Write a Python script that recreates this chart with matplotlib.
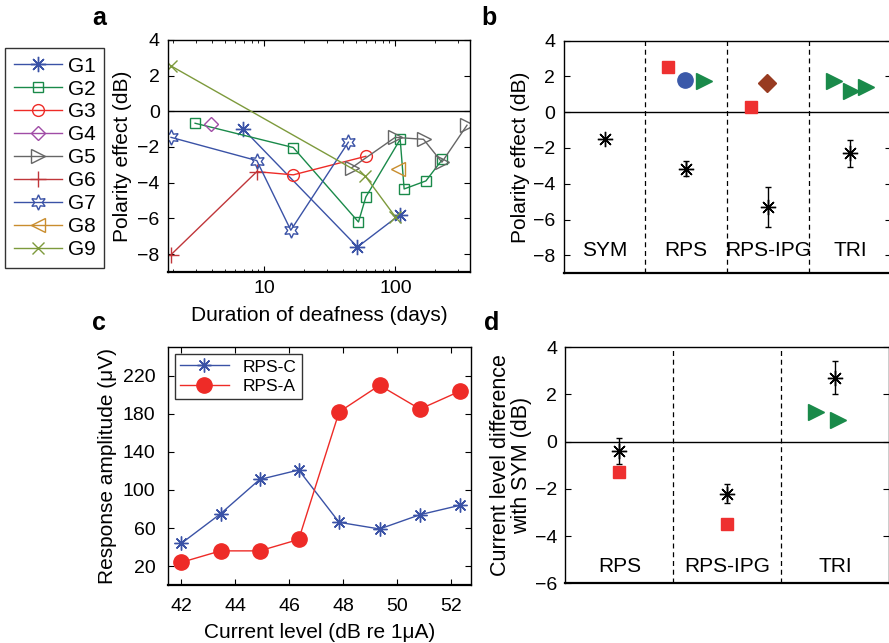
import numpy as np
import matplotlib
matplotlib.use('Agg')
import matplotlib.pyplot as plt
from matplotlib.lines import Line2D

plt.rcParams['font.family'] = ['Liberation Sans', 'DejaVu Sans']
plt.rcParams['font.size'] = 15
plt.rcParams['xtick.direction'] = 'in'
plt.rcParams['ytick.direction'] = 'in'
plt.rcParams['xtick.labelsize'] = 14
plt.rcParams['ytick.labelsize'] = 14

# ---- panel a: polarity effect vs duration of deafness, per guinea pig
g1_x = [6.9, 51.3, 107.5]
g1_y = [-1.0, -7.6, -5.8]
g2_x = [2.96, 16.6, 52.2, 59.4, 108.6, 116.4, 170.6, 227.5]
g2_y = [-0.67, -2.03, -6.2, -4.8, -1.57, -4.35, -3.9, -2.7]
g3_x = [8.75, 16.6, 59.4]
g3_y = [-3.38, -3.56, -2.52]
g4_x = [3.92]
g4_y = [-0.71]
g5_x = [46.4, 99.5, 163.6, 226.0, 351.0]
g5_y = [-3.16, -1.46, -1.57, -2.85, -0.78]
g6_x = [1.94, 8.75]
g6_y = [-8.03, -3.38]
g7_x = [1.94, 8.75, 15.9, 43.7]
g7_y = [-1.46, -2.76, -6.66, -1.73]
g8_x = [105.4]
g8_y = [-3.21]
g9_x = [1.94, 58.7, 99.5]
g9_y = [2.54, -3.62, -5.9]

# ---- panel b: polarity effect per stimulus type
stim_b = ['SYM', 'RPS', 'RPS-IPG', 'TRI']
mean_b = [-1.5, -3.15, -5.3, -2.3]
err_b = [0.0, 0.4, 1.1, 0.75]
sq_b_x = [1.78, 2.79]
sq_b_y = [2.5, 0.3]
circ_b_x = [1.99]
circ_b_y = [1.8]
tri_b_x = [2.22, 3.80, 4.01, 4.2]
tri_b_y = [1.75, 1.75, 1.2, 1.4]
dia_b_x = [2.99]
dia_b_y = [1.6]

# ---- panel c: input/output functions
level_c = [42.0, 43.45, 44.9, 46.35, 47.85, 49.35, 50.85, 52.35]
rps_c = [44, 75, 111, 121, 66, 59, 74, 84]
rps_a = [24, 36, 36, 48, 182, 210, 185, 204]

# ---- panel d: current level difference with SYM
stim_d = ['RPS', 'RPS-IPG', 'TRI']
mean_d = [-0.4, -2.2, 2.7]
err_d = [0.55, 0.4, 0.7]
sq_d_x = [1.0, 2.0]
sq_d_y = [-1.3, -3.5]
tri_d_x = [2.82, 3.03]
tri_d_y = [1.25, 0.9]

blue = '#3a52a6'
green = '#1a8a4a'
red = '#ee2b27'
asterisk = (8, 2, 0)
hexagram = (6, 1, 0)

fig = plt.figure(figsize=(8.89, 6.43), dpi=100)


def style_axes(ax, pad=6):
    ax.tick_params(top=True, right=True, length=4, width=0.8, pad=pad)
    for s in ax.spines.values():
        s.set_linewidth(1.0)
    ax.spines['bottom'].set_linewidth(1.6)


# panel a
ax = fig.add_axes([0.189, 0.577, 0.340, 0.361])
ax.axhline(0, color='k', lw=1)
groups = [
    ('G1', g1_x, g1_y, blue, asterisk, 11, blue),
    ('G2', g2_x, g2_y, green, 's', 7.5, 'none'),
    ('G3', g3_x, g3_y, red, 'o', 8.5, 'none'),
    ('G4', g4_x, g4_y, '#a04ca6', 'D', 7, 'none'),
    ('G5', g5_x, g5_y, '#666666', '>', 10, 'none'),
    ('G6', g6_x, g6_y, '#c0363a', '+', 11, 'none'),
    ('G7', g7_x, g7_y, blue, hexagram, 11, 'none'),
    ('G8', g8_x, g8_y, '#c98d2e', '<', 10, 'none'),
    ('G9', g9_x, g9_y, '#7d9a3c', 'x', 8, 'none'),
]
handles = []
for name, x, y, c, m, ms, fc in groups:
    kw = dict(color=c, marker=m, ms=ms, mfc=fc, mec=c, lw=1.0, mew=1.0)
    if name == 'G3':
        # first point of G3 has no marker
        ax.plot(x, y, markevery=[1, 2], **kw)
    else:
        ax.plot(x, y, **kw)
    handles.append(Line2D([], [], label=name, **kw))
ax.set_xscale('log')
ax.set_xlim(1.84, 372)
ax.set_ylim(-9, 4)
ax.set_yticks(np.arange(-8, 5, 2))
ax.set_xticks([10, 100])
ax.set_xticklabels(['10', '100'])
ax.set_xlabel('Duration of deafness (days)', labelpad=6)
ax.set_ylabel('Polarity effect (dB)')
style_axes(ax)
ax.tick_params(which='minor', top=True, direction='in', length=2.5)
fig.legend(handles=handles, loc='upper left', bbox_to_anchor=(0.006, 0.925),
           frameon=True, fancybox=False, edgecolor='k', handlelength=2.3,
           labelspacing=0.19, borderpad=0.4, handletextpad=0.3, fontsize=15,
           borderaxespad=0)
fig.text(0.104, 0.99, 'a', fontsize=18, fontweight='bold', va='top')

# panel b
ax = fig.add_axes([0.634, 0.575, 0.368, 0.362])
ax.axhline(0, color='k', lw=1)
for xv in [1.5, 2.5, 3.5]:
    ax.axvline(xv, color='k', ls='--', lw=0.9, dashes=(4, 3))
pos_b = np.arange(1, len(stim_b) + 1)
ax.errorbar(pos_b[1:], mean_b[1:], yerr=err_b[1:], fmt='none', ecolor='k', capsize=2.5, elinewidth=1)
ax.plot(pos_b, mean_b, ls='none', marker=asterisk, ms=11, color='k', mew=1.0)
ax.plot(sq_b_x, sq_b_y, ls='none', marker='s', ms=9, color='#ee3030')
ax.plot(circ_b_x, circ_b_y, ls='none', marker='o', ms=11, color='#3b59a9')
ax.plot(tri_b_x, tri_b_y, ls='none', marker='>', ms=12, color=green)
ax.plot(dia_b_x, dia_b_y, ls='none', marker='D', ms=9, color='#983b21')
for p, s in zip(pos_b, stim_b):
    ax.text(p, -7.75, s, ha='center', va='center', fontsize=15)
ax.set_xlim(0.5, 4.5)
ax.set_ylim(-9, 4)
ax.set_yticks(np.arange(-8, 5, 2))
ax.set_xticks([])
ax.set_ylabel('Polarity effect (dB)', labelpad=2)
style_axes(ax)
fig.text(0.542, 0.99, 'b', fontsize=18, fontweight='bold', va='top')

# panel c
ax = fig.add_axes([0.189, 0.090, 0.341, 0.370])
ax.plot(level_c, rps_c, color=blue, marker=asterisk, ms=10, mew=1.0, lw=1.0, label='RPS-C')
ax.plot(level_c, rps_a, color=red, marker='o', ms=11, lw=1.0, label='RPS-A')
ax.set_xlim(41.5, 52.75)
ax.set_ylim(0, 250)
ax.set_xticks(np.arange(42, 53, 2))
ax.set_yticks(np.arange(20, 221, 40))
ax.set_xlabel('Current level (dB re 1\u03bcA)', labelpad=6)
ax.set_ylabel('Response amplitude (\u03bcV)')
ax.legend(loc='upper left', frameon=True, fancybox=False, edgecolor='k', fontsize=12.5,
          handlelength=2.8, borderpad=0.3, labelspacing=0.25, borderaxespad=0.4)
style_axes(ax, pad=9)
fig.text(0.104, 0.517, 'c', fontsize=18, fontweight='bold', va='top')

# panel d
ax = fig.add_axes([0.636, 0.093, 0.364, 0.367])
ax.axhline(0, color='k', lw=1)
for xv in [1.5, 2.5]:
    ax.axvline(xv, color='k', ls='--', lw=0.9, dashes=(4, 3))
pos_d = np.arange(1, len(stim_d) + 1)
ax.errorbar(pos_d, mean_d, yerr=err_d, fmt='none', ecolor='k', capsize=2.5, elinewidth=1)
ax.plot(pos_d, mean_d, ls='none', marker=asterisk, ms=11, color='k', mew=1.0)
ax.plot(sq_d_x, sq_d_y, ls='none', marker='s', ms=9, color='#ee3030')
ax.plot(tri_d_x, tri_d_y, ls='none', marker='>', ms=12, color=green)
for p, s in zip(pos_d, stim_d):
    ax.text(p, -5.3, s, ha='center', va='center', fontsize=15)
ax.set_xlim(0.5, 3.5)
ax.set_ylim(-6, 4)
ax.set_yticks(np.arange(-6, 5, 2))
ax.set_xticks([])
ax.set_ylabel('Current level difference\nwith SYM (dB)', linespacing=1.0, fontsize=15.5, labelpad=2)
style_axes(ax)
fig.text(0.544, 0.517, 'd', fontsize=18, fontweight='bold', va='top')

fig.savefig('out.png', dpi=100)
